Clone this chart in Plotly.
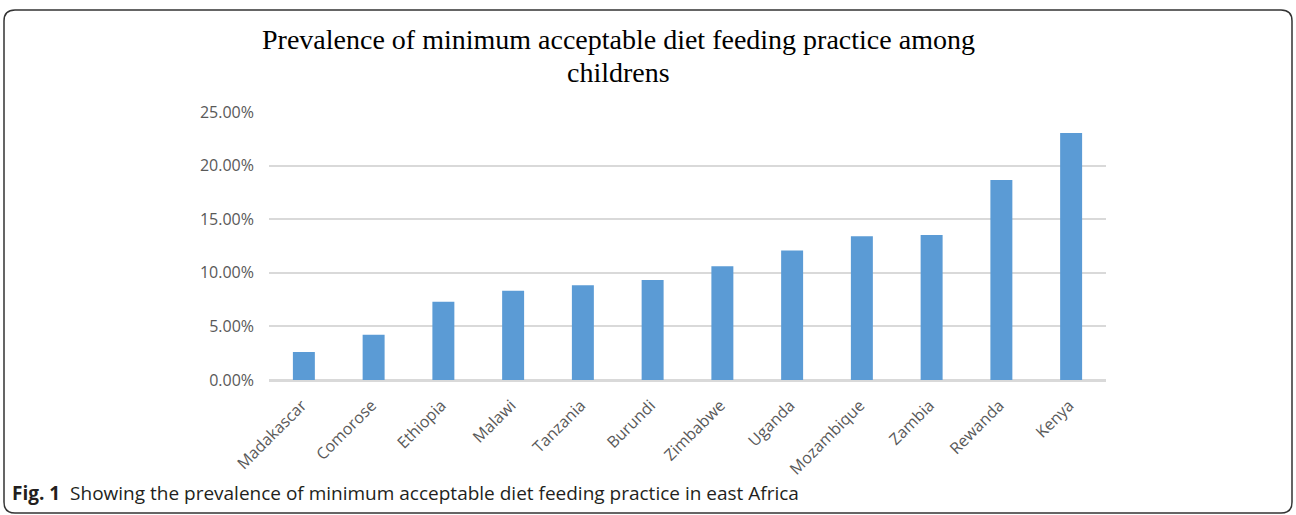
import plotly.graph_objects as go

countries = ["Madakascar", "Comorose", "Ethiopia", "Malawi", "Tanzania", "Burundi",
             "Zimbabwe", "Uganda", "Mozambique", "Zambia", "Rewanda", "Kenya"]
prevalence = [0.0261, 0.0423, 0.0730, 0.0833, 0.0885, 0.0932,
              0.1062, 0.1209, 0.1340, 0.1352, 0.1866, 0.2304]
y_ticks = [0, 0.05, 0.10, 0.15, 0.20, 0.25]

W, H = 1296, 515
L, R, T, B = 269, 1106, 112, 380  # plot area in pixels


def px(x):
    return (x - L) / (R - L)


def py(y):
    return (B - y) / (B - T)


fig = go.Figure(go.Bar(
    x=countries, y=prevalence,
    marker=dict(color="#5B9BD5", line=dict(width=0)),
    width=0.315,
))

# rounded border
x0, x1, y0, y1, r = 4, 1292, 10, 513, 11
path = (f"M {px(x0 + r)},{py(y0)} L {px(x1 - r)},{py(y0)} "
        f"Q {px(x1)},{py(y0)} {px(x1)},{py(y0 + r)} "
        f"L {px(x1)},{py(y1 - r)} Q {px(x1)},{py(y1)} {px(x1 - r)},{py(y1)} "
        f"L {px(x0 + r)},{py(y1)} Q {px(x0)},{py(y1)} {px(x0)},{py(y1 - r)} "
        f"L {px(x0)},{py(y0 + r)} Q {px(x0)},{py(y0)} {px(x0 + r)},{py(y0)} Z")

title_font = dict(family="Liberation Serif", size=28, color="#000000")

fig.update_layout(
    width=W, height=H,
    margin=dict(l=L, r=W - R, t=T, b=H - B, pad=0),
    paper_bgcolor="white", plot_bgcolor="white",
    showlegend=False,
    bargap=0.685,
    xaxis=dict(
        tickangle=-45, tickfont=dict(family="Open Sans", size=16, color="#595959"),
        showline=True, linecolor="#D9D9D9", linewidth=1.5,
        showgrid=False, ticks="", automargin=False,
        ticklabelshift=-2, ticklabelstandoff=8,
    ),
    yaxis=dict(
        range=[0, 0.25], tickvals=y_ticks, tickformat=".2%",
        tickfont=dict(family="Open Sans", size=16, color="#595959"),
        showgrid=True, gridcolor="#D9D9D9", gridwidth=1.5,
        zeroline=True, zerolinecolor="#D9D9D9", zerolinewidth=1.5,
        showline=False, ticks="", ticklen=0, automargin=False,
        ticklabelstandoff=14,
    ),
    shapes=[dict(type="path", xref="paper", yref="paper", path=path,
                 line=dict(color="#333333", width=1.5), layer="above")],
    annotations=[
        dict(text="Prevalence of minimum acceptable diet feeding practice among",
             xref="paper", yref="paper", x=px(618), y=py(40), xanchor="center", yanchor="middle",
             showarrow=False, font=title_font),
        dict(text="childrens",
             xref="paper", yref="paper", x=px(618), y=py(72), xanchor="center", yanchor="middle",
             showarrow=False, font=title_font),
        dict(text="<b>Fig. 1</b>  Showing the prevalence of minimum acceptable diet feeding practice in east Africa",
             xref="paper", yref="paper", x=px(10), y=py(493), xanchor="left", yanchor="middle",
             showarrow=False, align="left",
             font=dict(family="Open Sans", size=19, color="#231F20")),
    ],
)

fig.write_html("out.html", config={"displayModeBar": False})
with open("out.html", "r", encoding="utf-8") as f:
    html = f.read()
html = html.replace("<body>", '<body style="margin:0;overflow:hidden">', 1)
with open("out.html", "w", encoding="utf-8") as f:
    f.write(html)
